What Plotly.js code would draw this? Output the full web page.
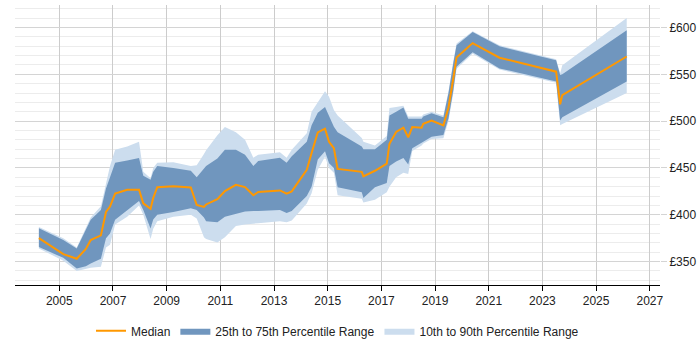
<!DOCTYPE html>
<html>
<head>
<meta charset="utf-8">
<script src="https://cdn.plot.ly/plotly-3.0.1.min.js"></script>
<style>
  html, body { margin: 0; padding: 0; background: #fff; }
  #chart { width: 700px; height: 350px; }
</style>
</head>
<body>
<div id="chart"></div>
<script>
// Sample dates (decimal years) shared by every series
const years = [
  2004.24, 2005.15, 2005.65, 2005.99, 2006.17, 2006.55, 2006.74, 2006.89, 2007.08, 2007.53,
  2007.97, 2008.13, 2008.40, 2008.50, 2008.65, 2009.25, 2009.90, 2010.12, 2010.39, 2010.47,
  2010.89, 2011.17, 2011.58, 2011.92, 2012.23, 2012.41, 2013.22, 2013.47, 2013.66, 2014.22,
  2014.40, 2014.63, 2014.90, 2015.05, 2015.23, 2015.37, 2016.27, 2016.33, 2016.76, 2017.20,
  2017.30, 2017.55, 2017.82, 2018.00, 2018.15, 2018.50, 2018.56, 2018.87, 2019.31, 2019.50,
  2019.68, 2019.80, 2020.40, 2021.40, 2023.51, 2023.66, 2023.74, 2026.14
];

// Median salary (GBP)
const median = [
  375, 358, 353, 363.5, 373, 378, 403, 408.7, 422.6, 426.7,
  426.7, 412.2, 406.3, 418, 429.5, 430.5, 429.2, 410.4, 408.3, 411,
  416.7, 425.3, 432, 429.5, 420.8, 424.3, 426, 422.6, 425, 448,
  466, 488, 492, 478, 471, 449, 445.8, 441, 447, 454.5,
  475.7, 488.5, 493, 482.6, 493.7, 493, 497.2, 500.7, 495.5, 514.6,
  545.8, 568, 583.3, 567.7, 552.8, 518, 527.8, 569
];

// 25th percentile
const p25 = [
  365.5, 354, 342.7, 345, 348, 353, 375, 380, 394.8, 405,
  414.6, 405, 385.4, 395, 400, 403, 407, 405, 397, 393,
  392, 398, 401, 403.5, 404, 404, 405.2, 402, 404, 420,
  430, 459, 467.7, 455, 450, 429.5, 424, 418, 429.5, 434,
  452, 457, 460.7, 453.8, 471, 476.4, 478, 483.3, 485.1, 503,
  533, 558, 573.6, 556.3, 542.4, 500.7, 504, 542.4
];

// 75th percentile
const p75 = [
  385.5, 373, 364, 384.4, 394.8, 405, 428, 440, 455.5, 458,
  460.7, 441.7, 437.5, 446, 452, 450, 447, 440, 449, 452,
  460, 469.5, 469.5, 464.2, 452, 457.3, 460.8, 455.5, 462.5, 478,
  495.5, 509, 515, 505, 494, 488, 473, 470, 470, 480,
  506, 510, 514.6, 502.4, 502.4, 502.4, 505, 508.3, 504.2, 530,
  562, 581, 595.1, 579.9, 565, 549.3, 550, 597
];

// 10th percentile
const p10 = [
  364, 351, 340, 342.7, 343.5, 344.5, 365, 368, 389.6, 398,
  410, 400, 374, 385, 393, 398, 400, 396, 376, 374,
  370.5, 376, 388, 389.6, 390, 391, 393, 392, 394, 412,
  423, 448, 462, 450, 445, 420.8, 417, 413, 416, 424,
  430, 440, 445, 443.4, 468, 474, 476, 481, 481.6, 500,
  530, 556, 572, 555, 541, 495.5, 497, 530
];

// 90th percentile
const p90 = [
  387, 375, 365, 387, 397, 409, 433, 452, 469.5, 473,
  478, 446, 439, 450, 455.5, 456, 452, 453, 465, 469,
  485, 493.7, 488, 480, 461, 464, 466.7, 460.8, 469.5, 487,
  510, 520, 532, 526, 512, 506, 482, 478, 474, 484,
  514, 515, 516.3, 505, 505, 505, 507, 510, 506, 532,
  564, 583, 596, 581, 566, 551, 559.7, 610
];

const xTicks = [2005, 2007, 2009, 2011, 2013, 2015, 2017, 2019, 2021, 2023, 2025, 2027];
const yTicks = [350, 400, 450, 500, 550, 600];
const yTickLabels = yTicks.map(v => '£' + v);

const lightBand = 'rgb(204,221,238)';
const darkBand = 'rgb(112,150,190)';
const medianColor = 'rgb(255,152,0)';

const traces = [
  { x: years, y: p10, type: 'scatter', mode: 'lines', line: { width: 0 },
    showlegend: false, hoverinfo: 'skip' },
  { x: years, y: p90, type: 'scatter', mode: 'lines', line: { width: 0 },
    fill: 'tonexty', fillcolor: lightBand, name: '10th to 90th Percentile Range', legendrank: 3 },
  { x: years, y: p25, type: 'scatter', mode: 'lines', line: { width: 0 },
    showlegend: false, hoverinfo: 'skip' },
  { x: years, y: p75, type: 'scatter', mode: 'lines', line: { width: 0 },
    fill: 'tonexty', fillcolor: darkBand, name: '25th to 75th Percentile Range', legendrank: 2 },
  { x: years, y: median, type: 'scatter', mode: 'lines',
    line: { color: medianColor, width: 2 }, name: 'Median', legendrank: 1 }
];

const layout = {
  width: 700, height: 350,
  margin: { l: 15, r: 40, t: 5, b: 58 },
  paper_bgcolor: '#fff', plot_bgcolor: '#fff',
  font: { family: '"Liberation Sans", Arial, sans-serif', size: 12, color: '#222' },
  showlegend: true,
  legend: { orientation: 'h', x: 0.5, xanchor: 'center', y: -0.112, yanchor: 'top',
            font: { size: 12, color: '#222' }, traceorder: 'normal' },
  xaxis: {
    range: [2003.35, 2027.38], tickvals: xTicks, ticktext: xTicks.map(String),
    showgrid: true, gridcolor: '#cccccc', gridwidth: 1,
    showline: true, linecolor: '#000', linewidth: 1,
    ticks: 'outside', ticklen: 5, tickcolor: '#000',
    zeroline: false, fixedrange: true
  },
  yaxis: {
    side: 'right', range: [325, 624], tickvals: yTicks, ticktext: yTickLabels,
    showgrid: true, gridcolor: '#d4d4d4', gridwidth: 1,
    minor: { dtick: 10, tick0: 0, showgrid: true, gridcolor: '#ececec', gridwidth: 1 },
    ticks: 'outside', ticklen: 6, tickcolor: '#d4d4d4',
    showline: false, zeroline: false, fixedrange: true
  }
};

Plotly.newPlot('chart', traces, layout, { displayModeBar: false, staticPlot: true });
</script>
</body>
</html>
